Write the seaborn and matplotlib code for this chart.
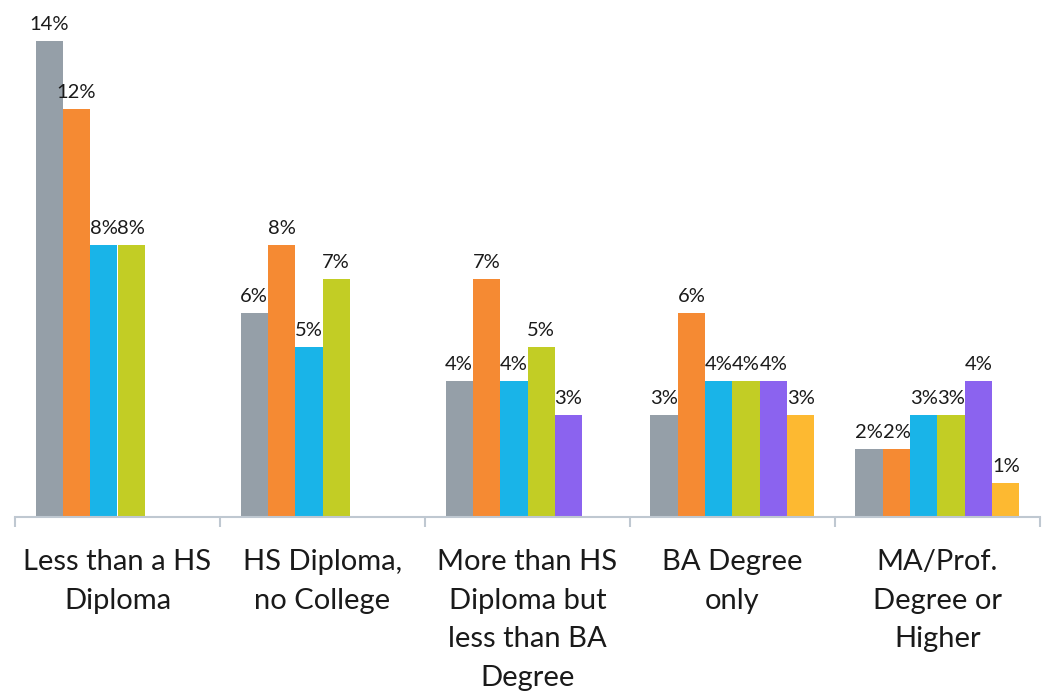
import pandas as pd
import matplotlib.pyplot as plt
import seaborn as sns

# education groups on the x axis
categories = [
    "Less than a HS\nDiploma",
    "HS Diploma,\nno College",
    "More than HS\nDiploma but\nless than BA\nDegree",
    "BA Degree\nonly",
    "MA/Prof.\nDegree or\nHigher",
]

# six series (no legend in the source), None = no bar
series = ["S1", "S2", "S3", "S4", "S5", "S6"]
s1 = [14, 6, 4, 3, 2]
s2 = [12, 8, 7, 6, 2]
s3 = [8, 5, 4, 4, 3]
s4 = [8, 7, 5, 4, 3]
s5 = [None, None, 3, 4, 4]
s6 = [None, None, None, 3, 1]

colors = ["#959FA8", "#F58A33", "#19B4E8", "#C2CD25", "#8B63EF", "#FDB931"]

rows = []
for name, vals in zip(series, [s1, s2, s3, s4, s5, s6]):
    for cat, v in zip(categories, vals):
        if v is not None:
            rows.append({"category": cat, "series": name, "value": v})
df = pd.DataFrame(rows)

sns.set_style("white")
plt.rcParams["font.family"] = ["Lato", "DejaVu Sans"]

fig = plt.figure(figsize=(10.5, 6.95), dpi=100)
ax = fig.add_axes([15 / 1050, 1 - 517 / 695, 1025 / 1050, 517 / 695])

sns.barplot(data=df, x="category", y="value", hue="series",
            order=categories, hue_order=series, palette=colors,
            saturation=1, width=0.8, linewidth=0, legend=False, ax=ax)

# value labels, kept narrow enough not to run into the neighbour
for cont in ax.containers:
    ax.bar_label(cont, labels=[f"{int(b.get_height())}%" for b in cont],
                 padding=6, fontsize=14.5, color="#1a1a1a")

ax.set_xlim(-0.5, 4.5)
ax.set_ylim(0, 517 / 34)
ax.set_xlabel("")
ax.set_ylabel("")
ax.set_yticks([])

for side in ["top", "right", "left"]:
    ax.spines[side].set_visible(False)
ax.spines["bottom"].set_color("#BFC8D1")
ax.spines["bottom"].set_linewidth(1.5)

# labels centred, ticks at group boundaries
ax.set_xticks(range(len(categories)))
ax.set_xticklabels(categories, fontsize=21, linespacing=1.6, color="#1a1a1a")
ax.tick_params(axis="x", which="major", length=0, pad=23)
ax.set_xticks([i - 0.5 for i in range(len(categories) + 1)], minor=True)
ax.tick_params(axis="x", which="minor", bottom=True, length=7, width=1.5,
               color="#BFC8D1")

fig.savefig("out.png", dpi=100)
